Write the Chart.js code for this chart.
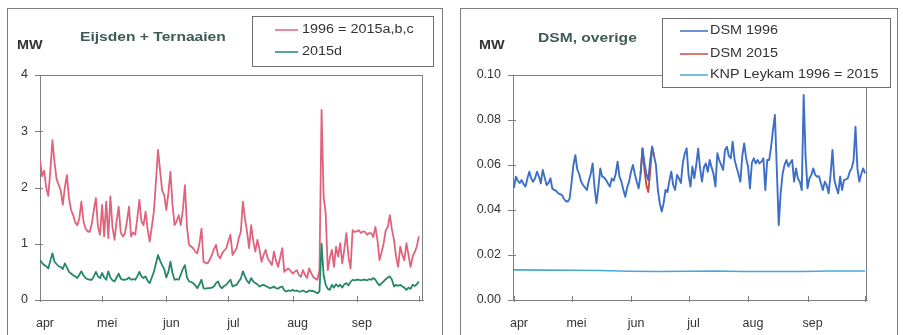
<!DOCTYPE html>
<html>
<head>
<meta charset="utf-8">
<script src="https://cdn.jsdelivr.net/npm/chart.js@4/dist/chart.umd.min.js"></script>
<style>
  html, body { margin: 0; padding: 0; background: #fff; }
  body { width: 903px; height: 335px; overflow: hidden; position: relative; }
  .frame { position: absolute; border: 1px solid #7d7d7d; box-sizing: border-box; height: 400px; }
  canvas { position: absolute; top: 0; }
</style>
</head>
<body>
<div class="frame" style="left:7px; top:8px; width:436px;"></div>
<div class="frame" style="left:460px; top:8px; width:438px;"></div>
<canvas id="left" width="451" height="335" style="left:0"></canvas>
<canvas id="right" width="452" height="335" style="left:451px"></canvas>
<script>
// Month boundaries (days since 1 April) and their axis labels
const monthDays = [0, 30, 61, 91, 122, 153, 183];
const monthLabels = ['apr', 'mei', 'jun', 'jul', 'aug', 'sep', ''];

// Daily load, Eijsden + Ternaaien (MW), 1 April - 30 September
const eijsden1996 = [
  2.50, 2.20, 2.30, 2.00, 1.85, 2.30, 2.84, 2.45, 2.15, 2.05,
  1.95, 1.69, 2.00, 2.22, 1.81, 1.60, 1.51, 1.38, 1.33, 1.45,
  1.75, 1.40, 1.27, 1.22, 1.21, 1.35, 1.60, 1.81, 1.30, 1.16,
  1.69, 1.13, 1.75, 1.10, 1.84, 1.30, 1.07, 1.40, 1.66, 1.20,
  1.13, 1.18, 1.40, 1.66, 1.13, 1.20, 1.16, 1.45, 1.78, 1.40,
  1.33, 1.57, 1.25, 1.04, 1.30, 1.57, 2.10, 2.67, 2.30, 1.95,
  1.87, 1.60, 1.90, 2.28, 1.70, 1.33, 1.40, 1.51, 1.33, 1.60,
  2.04, 1.30, 0.98, 0.95, 0.92, 0.86, 0.83, 1.00, 1.27, 0.68,
  0.66, 0.65, 0.72, 0.80, 0.90, 0.98, 0.80, 0.74, 0.83, 0.88,
  0.92, 1.05, 1.16, 0.80, 0.86, 0.92, 1.10, 1.21, 1.75, 1.45,
  1.21, 0.92, 1.33, 1.05, 0.86, 1.07, 0.90, 0.68, 0.80, 0.89,
  0.74, 0.68, 0.62, 0.86, 0.70, 0.59, 0.75, 0.92, 0.50, 0.54,
  0.56, 0.52, 0.47, 0.50, 0.53, 0.45, 0.41, 0.53, 0.45, 0.39,
  0.56, 0.48, 0.41, 0.38, 0.36, 0.53, 3.38, 1.84, 1.54, 0.53,
  0.75, 0.89, 0.59, 0.95, 0.77, 1.01, 0.65, 0.90, 1.19, 0.77,
  0.56, 1.24, 1.21, 1.22, 1.24, 1.19, 1.22, 1.21, 1.16, 1.19,
  1.19, 1.12, 1.30, 1.07, 0.71, 0.85, 1.01, 1.24, 1.30, 1.51,
  1.25, 1.07, 0.77, 0.59, 0.95, 0.80, 0.71, 1.01, 0.80, 0.59,
  0.77, 0.85, 0.95, 1.13
];
const eijsden2015d = [
  0.71, 0.66, 0.62, 0.60, 0.56, 0.70, 0.83, 0.68, 0.64, 0.60,
  0.59, 0.55, 0.65, 0.58, 0.50, 0.47, 0.44, 0.42, 0.39, 0.45,
  0.51, 0.44, 0.39, 0.37, 0.36, 0.36, 0.42, 0.50, 0.42, 0.39,
  0.48, 0.40, 0.36, 0.51, 0.40, 0.35, 0.33, 0.40, 0.47, 0.38,
  0.36, 0.36, 0.37, 0.40, 0.36, 0.37, 0.36, 0.42, 0.50, 0.42,
  0.39, 0.42, 0.34, 0.30, 0.40, 0.50, 0.65, 0.80, 0.70, 0.62,
  0.55, 0.40, 0.50, 0.68, 0.48, 0.36, 0.37, 0.36, 0.45, 0.55,
  0.62, 0.40, 0.33, 0.32, 0.30, 0.26, 0.21, 0.28, 0.36, 0.21,
  0.20, 0.21, 0.21, 0.22, 0.24, 0.30, 0.33, 0.24, 0.21, 0.25,
  0.27, 0.32, 0.36, 0.24, 0.26, 0.27, 0.33, 0.38, 0.51, 0.42,
  0.34, 0.30, 0.39, 0.33, 0.30, 0.28, 0.24, 0.26, 0.27, 0.25,
  0.23, 0.21, 0.22, 0.24, 0.21, 0.20, 0.23, 0.24, 0.17, 0.15,
  0.17, 0.16, 0.18, 0.16, 0.17, 0.15, 0.15, 0.17, 0.15, 0.14,
  0.17, 0.16, 0.16, 0.14, 0.12, 0.15, 1.00, 0.44, 0.27, 0.20,
  0.18, 0.27, 0.22, 0.28, 0.24, 0.27, 0.22, 0.28, 0.30, 0.26,
  0.32, 0.36, 0.35, 0.36, 0.36, 0.35, 0.36, 0.36, 0.35, 0.37,
  0.36, 0.39, 0.36, 0.30, 0.26, 0.30, 0.33, 0.37, 0.40, 0.42,
  0.36, 0.24, 0.27, 0.25, 0.27, 0.24, 0.22, 0.18, 0.22, 0.20,
  0.27, 0.25, 0.28, 0.33
];

// Daily load, DSM and other users (MW)
const dsm1996 = [
  0.0498, 0.0548, 0.0530, 0.0520, 0.0533, 0.0515, 0.0504, 0.0540, 0.0570, 0.0540,
  0.0526, 0.0541, 0.0570, 0.0550, 0.0518, 0.0578, 0.0545, 0.0511, 0.0520, 0.0541,
  0.0495, 0.0489, 0.0485, 0.0475, 0.0470, 0.0467, 0.0450, 0.0440, 0.0437, 0.0450,
  0.0520, 0.0600, 0.0644, 0.0580, 0.0560, 0.0526, 0.0511, 0.0500, 0.0489, 0.0530,
  0.0560, 0.0607, 0.0500, 0.0430, 0.0500, 0.0585, 0.0548, 0.0545, 0.0533, 0.0518,
  0.0504, 0.0540, 0.0530, 0.0560, 0.0615, 0.0548, 0.0526, 0.0490, 0.0459, 0.0500,
  0.0526, 0.0570, 0.0600, 0.0560, 0.0526, 0.0496, 0.0560, 0.0674, 0.0610, 0.0560,
  0.0533, 0.0620, 0.0681, 0.0640, 0.0600, 0.0489, 0.0430, 0.0393, 0.0430, 0.0489,
  0.0480, 0.0530, 0.0570, 0.0510, 0.0489, 0.0556, 0.0541, 0.0520, 0.0607, 0.0650,
  0.0674, 0.0556, 0.0504, 0.0593, 0.0541, 0.0600, 0.0674, 0.0585, 0.0526, 0.0590,
  0.0607, 0.0570, 0.0622, 0.0590, 0.0560, 0.0504, 0.0652, 0.0622, 0.0600, 0.0578,
  0.0667, 0.0681, 0.0640, 0.0630, 0.0704, 0.0622, 0.0590, 0.0560, 0.0526, 0.0640,
  0.0696, 0.0630, 0.0593, 0.0496, 0.0610, 0.0630, 0.0607, 0.0622, 0.0607, 0.0615,
  0.0630, 0.0489, 0.0622, 0.0622, 0.0680, 0.0756, 0.0822, 0.0580, 0.0333, 0.0474,
  0.0560, 0.0600, 0.0622, 0.0593, 0.0610, 0.0622, 0.0526, 0.0585, 0.0540, 0.0526,
  0.0489, 0.0911, 0.0637, 0.0496, 0.0540, 0.0556, 0.0585, 0.0556, 0.0548, 0.0550,
  0.0518, 0.0489, 0.0526, 0.0510, 0.0474, 0.0556, 0.0667, 0.0533, 0.0500, 0.0474,
  0.0548, 0.0489, 0.0533, 0.0536, 0.0541, 0.0570, 0.0585, 0.0620, 0.0770, 0.0585,
  0.0526, 0.0560, 0.0585, 0.0563
];
// DSM 2015 only departs from 1996 in early June
const dsm2015Days = [66, 67, 68, 69, 70, 71, 72, 73];
const dsm2015Values = [0.0560, 0.0674, 0.0580, 0.0510, 0.0480, 0.0570, 0.0681, 0.0640];
// KNP Leykam, practically constant
const knpDays = [0, 15, 30, 45, 60, 75, 90, 105, 120, 135, 150, 165, 183];
const knpValues = [0.0134, 0.0133, 0.0132, 0.0131, 0.0128, 0.0127, 0.0128, 0.0129, 0.0127, 0.0127, 0.0127, 0.0129, 0.0129];

const FONT = '"Liberation Sans", Arial, sans-serif';
const AXIS = '#808080';
const TEXT = '#333333';

const toPoints = (xs, ys) => ys.map((v, i) => ({ x: xs[i], y: v }));
const dayIndex = eijsden1996.map((_, i) => i);

// Stretched text, as in the printed original
function wideText(ctx, str, x, y, font, color) {
  ctx.save();
  ctx.font = font;
  ctx.fillStyle = color;
  ctx.textBaseline = 'middle';
  ctx.textAlign = 'left';
  ctx.translate(x, y);
  ctx.scale(1.2, 1);
  ctx.fillText(str, 0, 0);
  ctx.restore();
}

// Plot frame, crossing tick marks, heading, unit and boxed legend
const panelDecor = {
  id: 'panelDecor',
  afterDraw(chart, args, o) {
    const { ctx, chartArea: a, scales: { x, y } } = chart;
    ctx.save();
    ctx.strokeStyle = AXIS;
    ctx.lineWidth = 1;
    ctx.beginPath();
    ctx.moveTo(a.left, Math.round(a.top) + 0.5);
    ctx.lineTo(a.right, Math.round(a.top) + 0.5);
    ctx.moveTo(Math.round(a.right) - 0.5, a.top);
    ctx.lineTo(Math.round(a.right) - 0.5, a.bottom);
    y.ticks.forEach(t => {
      const py = Math.round(y.getPixelForValue(t.value)) + 0.5;
      ctx.moveTo(a.left - 5, py);
      ctx.lineTo(a.left + 3, py);
    });
    monthDays.forEach(d => {
      const px = Math.round(x.getPixelForValue(d)) + 0.5;
      ctx.moveTo(px, a.bottom - 4);
      ctx.lineTo(px, a.bottom + 2);
    });
    ctx.stroke();

    wideText(ctx, o.title, o.titleX, o.titleY, 'bold 13px ' + FONT, '#3e5c55');
    wideText(ctx, 'MW', o.unitX, o.unitY, 'bold 12px ' + FONT, TEXT);

    const b = o.box;
    ctx.fillStyle = '#ffffff';
    ctx.fillRect(b.x, b.y, b.w, b.h);
    ctx.strokeStyle = '#6e6e6e';
    ctx.strokeRect(b.x + 0.5, b.y + 0.5, b.w, b.h);
    chart.data.datasets.forEach((ds, i) => {
      const ry = o.rows[i];
      ctx.strokeStyle = ds.borderColor;
      ctx.lineWidth = 1.5;
      ctx.beginPath();
      ctx.moveTo(o.sampleX0, ry);
      ctx.lineTo(o.sampleX1, ry);
      ctx.stroke();
      wideText(ctx, ds.label, o.textX, ry, '12px ' + FONT, TEXT);
    });
    ctx.restore();
  }
};

function baseOptions(cfg) {
  return {
    responsive: false,
    animation: false,
    layout: { padding: { left: 0, top: 75, right: cfg.padRight, bottom: 0 } },
    plugins: {
      legend: { display: false },
      tooltip: { enabled: false },
      panelDecor: cfg.decor
    },
    scales: {
      x: {
        type: 'linear',
        min: cfg.xMin,
        max: cfg.xMax,
        afterBuildTicks: s => { s.ticks = monthDays.map(v => ({ value: v })); },
        afterFit: s => { s.height = 35; },
        grid: { display: false, drawTicks: false },
        border: { display: true, color: AXIS, width: 1 },
        ticks: {
          autoSkip: false,
          maxRotation: 0,
          padding: 16,
          labelOffset: 5,
          color: TEXT,
          font: { family: FONT, size: 12.5 },
          callback: v => monthLabels[monthDays.indexOf(v)] ?? ''
        }
      },
      y: {
        min: 0,
        max: cfg.yMax,
        afterFit: s => { s.width = cfg.yWidth; },
        grid: { display: false, drawTicks: false },
        border: { display: true, color: AXIS, width: 1 },
        ticks: {
          stepSize: cfg.yStep,
          padding: 12,
          color: TEXT,
          font: { family: FONT, size: 12.5 },
          callback: cfg.yFormat
        }
      }
    }
  };
}

const lineStyle = { pointRadius: 0, tension: 0, fill: false, borderJoinStyle: 'round' };

new Chart(document.getElementById('left'), {
  type: 'line',
  data: {
    datasets: [
      { ...lineStyle, label: '1996 = 2015a,b,c', data: toPoints(dayIndex, eijsden1996),
        borderColor: '#e0627c', borderWidth: 1.8, order: 2 },
      { ...lineStyle, label: '2015d', data: toPoints(dayIndex, eijsden2015d),
        borderColor: '#24876a', borderWidth: 1.8, order: 1 }
    ]
  },
  options: baseOptions({
    padRight: 28, xMin: 0, xMax: 185, yMax: 4, yStep: 1, yWidth: 40,
    yFormat: v => String(v),
    decor: {
      title: 'Eijsden + Ternaaien', titleX: 80, titleY: 37,
      unitX: 17, unitY: 46,
      box: { x: 252, y: 16, w: 181, h: 50 },
      rows: [30, 52], sampleX0: 275, sampleX1: 298, textX: 302
    }
  }),
  plugins: [panelDecor]
});

new Chart(document.getElementById('right'), {
  type: 'line',
  data: {
    datasets: [
      { ...lineStyle, label: 'DSM 1996', data: toPoints(dayIndex, dsm1996),
        borderColor: '#3d6fc6', borderWidth: 1.9, order: 1 },
      { ...lineStyle, label: 'DSM 2015', data: toPoints(dsm2015Days, dsm2015Values),
        borderColor: '#d2493f', borderWidth: 1.9, order: 2 },
      { ...lineStyle, label: 'KNP Leykam 1996 = 2015', data: toPoints(knpDays, knpValues),
        borderColor: '#4aa6da', borderWidth: 1.6, order: 3 }
    ]
  },
  options: baseOptions({
    padRight: 36, xMin: -0.5, xMax: 184, yMax: 0.1, yStep: 0.02, yWidth: 62,
    yFormat: v => v.toFixed(2),
    decor: {
      title: 'DSM, overige', titleX: 87, titleY: 38,
      unitX: 28, unitY: 46,
      box: { x: 211, y: 18, w: 228, h: 69 },
      rows: [31, 54, 75], sampleX0: 229, sampleX1: 257, textX: 259
    }
  }),
  plugins: [panelDecor]
});
</script>
</body>
</html>
